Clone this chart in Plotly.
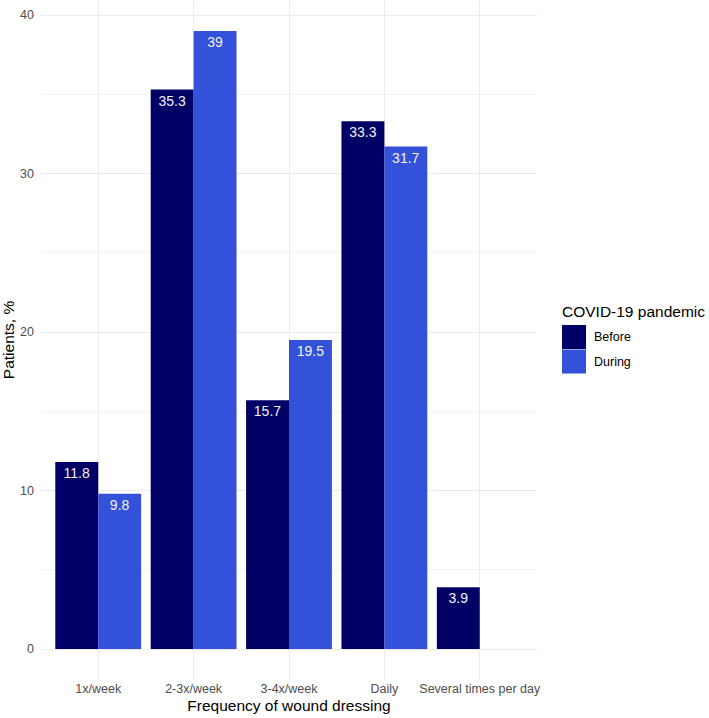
import plotly.graph_objects as go

categories = ["1x/week", "2-3x/week", "3-4x/week", "Daily", "Several times per day"]
before = [11.8, 35.3, 15.7, 33.3, 3.9]
during = [9.8, 39, 19.5, 31.7, None]
series_names = ["Before", "During"]
colors = ["#000066", "#3352D9"]

FONT = "Liberation Sans, Arial, Helvetica, sans-serif"

ML, MR, MT, MB = 41, 172, 0, 38
W, H = 709, 718

fig = go.Figure()
for name, vals, col in zip(series_names, [before, during], colors):
    fig.add_trace(go.Bar(
        x=categories, y=vals, name=name, marker_color=col, marker_line_width=0,
        text=[("" if v is None else f"{v:g}") for v in vals],
        textposition="inside", insidetextanchor="end", textangle=0,
        textfont=dict(color="#F2F2F2", size=14, family=FONT),
        constraintext="none", showlegend=False,
    ))

fig.update_layout(
    width=W, height=H,
    margin=dict(l=ML, r=MR, t=MT, b=MB),
    plot_bgcolor="white", paper_bgcolor="white",
    barmode="group", bargap=0.1, bargroupgap=0,
    font=dict(family=FONT, color="#000000"),
    xaxis=dict(
        range=[-0.6, 4.6], showgrid=True, gridcolor="#EBEBEB", gridwidth=1.1,
        showline=False, zeroline=False, ticks="", automargin=False,
        ticklabelstandoff=-1,
        tickfont=dict(size=12.5, color="#4D4D4D"),
        title=dict(text="Frequency of wound dressing", font=dict(size=15.5), standoff=5),
    ),
    yaxis=dict(
        range=[-1.95, 40.95], dtick=10, tick0=0, showgrid=True, gridcolor="#EBEBEB", gridwidth=1.1,
        zeroline=False, showline=False, ticks="", automargin=False,
        ticklabelstandoff=6,
        minor=dict(dtick=5, tick0=0, showgrid=True, gridcolor="#F2F2F2", gridwidth=0.6),
        tickfont=dict(size=12.5, color="#4D4D4D"),
        title=dict(text="Patients, %", font=dict(size=15.5), standoff=1),
    ),
)

# legend drawn in paper coordinates
def px_x(x):
    return (x - ML) / (W - ML - MR)

def px_y(y):
    return 1 - (y - MT) / (H - MT - MB)

fig.add_annotation(x=px_x(560), y=px_y(312), xref="paper", yref="paper", text="COVID-19 pandemic",
                   showarrow=False, xanchor="left", yanchor="middle", font=dict(size=15.5))
for i, (name, col) in enumerate(zip(series_names, colors)):
    y0 = 325 + i * 24.5
    fig.add_shape(type="rect", xref="paper", yref="paper", x0=px_x(562), x1=px_x(586),
                  y0=px_y(y0), y1=px_y(y0 + 24), fillcolor=col, line_width=0)
    fig.add_annotation(x=px_x(592), y=px_y(y0 + 12), xref="paper", yref="paper", text=name,
                       showarrow=False, xanchor="left", yanchor="middle", font=dict(size=12.5))

fig.write_html("out.html", config={"displayModeBar": False},
               post_script="document.body.style.margin='0';")
